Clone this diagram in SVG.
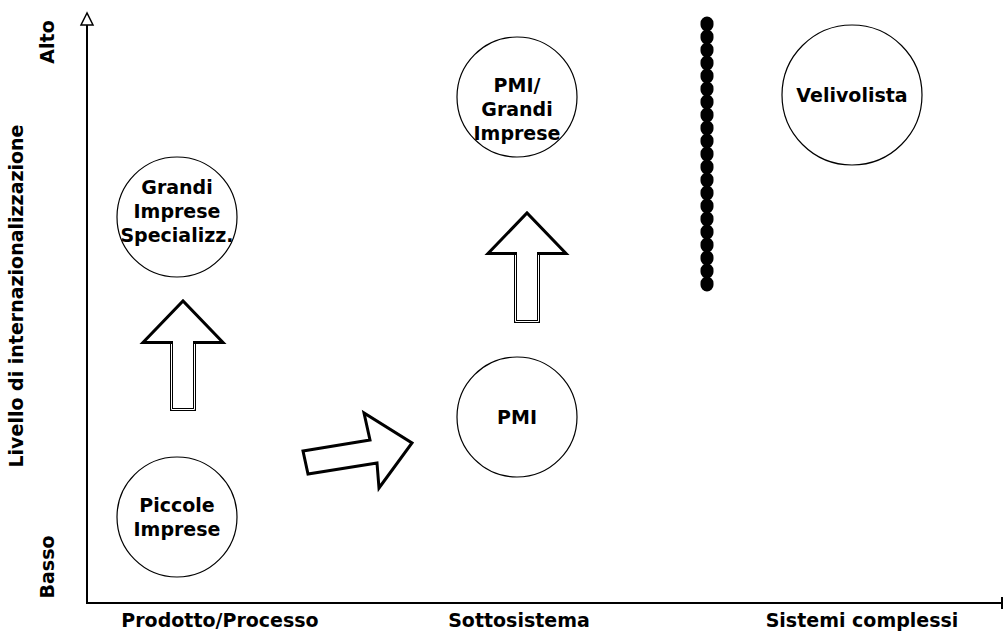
<svg xmlns="http://www.w3.org/2000/svg" width="1004" height="631" viewBox="0 0 1004 631">
  <style>
    .lbl { font-family: "DejaVu Sans", Verdana, sans-serif; font-weight: bold; font-size: 19px; fill: #000; text-anchor: middle; }
    .node circle { fill: #fff; stroke: #000; stroke-width: 1.2; }
    .axis { stroke: #000; stroke-width: 2; fill: none; }
    .big-arrow { fill: #fff; stroke: #000; stroke-width: 3; stroke-linejoin: miter; }
    .shaft-line { fill: none; stroke: #fff; stroke-width: 1; }
    .limit { stroke: #000; stroke-width: 13; stroke-linecap: round; stroke-dasharray: 2 11; fill: none; }
  </style>

  <rect width="1004" height="631" fill="#fff"/>

  <!-- axes -->
  <g id="axes">
    <line class="axis" x1="87" y1="24" x2="87" y2="603"/>
    <polygon points="87,13 81,25 93,25" fill="#fff" stroke="#000" stroke-width="1.5"/>
    <line class="axis" x1="86" y1="603" x2="1002" y2="603"/>
    <line class="axis" x1="1002" y1="597" x2="1002" y2="609"/>
    <text class="lbl" x="220" y="627">Prodotto/Processo</text>
    <text class="lbl" x="519" y="627">Sottosistema</text>
    <text class="lbl" x="862" y="627">Sistemi complessi</text>
    <text class="lbl" transform="translate(54,42) rotate(-90)">Alto</text>
    <text class="lbl" transform="translate(23,296) rotate(-90)">Livello di internazionalizzazione</text>
    <text class="lbl" transform="translate(54,567) rotate(-90)">Basso</text>
  </g>

  <!-- boundary line between subsystem and complex systems -->
  <line id="limit" class="limit" x1="707" y1="23" x2="707" y2="286"/>

  <!-- nodes -->
  <g id="piccole-imprese" class="node">
    <circle cx="177" cy="517" r="60"/>
    <text class="lbl" x="177" y="512">Piccole</text>
    <text class="lbl" x="177" y="536">Imprese</text>
  </g>
  <g id="grandi-imprese-specializz" class="node">
    <circle cx="177" cy="217" r="60"/>
    <text class="lbl" x="177" y="194">Grandi</text>
    <text class="lbl" x="177" y="218">Imprese</text>
    <text class="lbl" x="177" y="242">Specializz.</text>
  </g>
  <g id="pmi" class="node">
    <circle cx="517" cy="417" r="60"/>
    <text class="lbl" x="517" y="424">PMI</text>
  </g>
  <g id="pmi-grandi-imprese" class="node">
    <circle cx="517" cy="97" r="60"/>
    <text class="lbl" x="517" y="92">PMI/</text>
    <text class="lbl" x="517" y="116">Grandi</text>
    <text class="lbl" x="517" y="140">Imprese</text>
  </g>
  <g id="velivolista" class="node">
    <circle cx="852" cy="95" r="70"/>
    <text class="lbl" x="852" y="102">Velivolista</text>
  </g>

  <!-- block arrows; shafts carry a thin white core for the double outline -->
  <g id="connectors">
    <polygon class="big-arrow" points="171.5,409.5 194.5,409.5 194.5,342.5 223,342.5 183,301 143,342.5 171.5,342.5"/>
    <polyline class="shaft-line" points="171.5,344 171.5,409.5 194.5,409.5 194.5,344"/>
    <polygon class="big-arrow" points="515.5,321.5 538.5,321.5 538.5,253.5 566,253.5 527,213 488,253.5 515.5,253.5"/>
    <polyline class="shaft-line" points="515.5,255 515.5,321.5 538.5,321.5 538.5,255"/>
    <polygon class="big-arrow" points="303,451 308,474 377,463 379,488 412,443 364,413 370,440"/>
  </g>
</svg>
